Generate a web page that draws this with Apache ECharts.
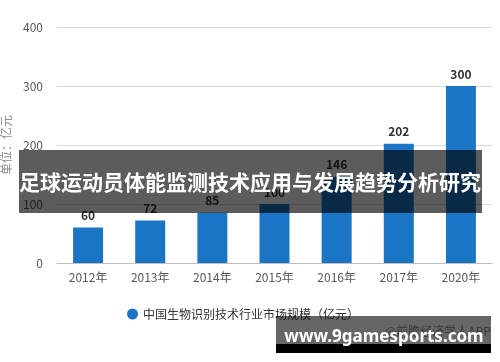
<!DOCTYPE html>
<html><head><meta charset="utf-8">
<script src="https://cdn.jsdelivr.net/npm/echarts@6/dist/echarts.min.js"></script>
<style>html,body{margin:0;padding:0;background:#fff}#c{width:500px;height:362px}</style>
</head><body><div id="c"></div>
<script>
var categories = ['2012年','2013年','2014年','2015年','2016年','2017年','2020年'];
var values = [60, 72, 85, 100, 146, 202, 300];
var seriesName = '中国生物识别技术行业市场规模（亿元）';
var yAxisName = '单位：亿元';
var titleText = '足球运动员体能监测技术应用与发展趋势分析研究';
var sourceText = '@前瞻经济学人APP';
var siteText = 'www.9gamesports.com';

var chart = echarts.init(document.getElementById('c'));
chart.setOption({
  animation: false,
  textStyle: {fontFamily: '"Noto Sans CJK SC", "Noto Sans", sans-serif'},
  grid: {left: 57, right: 8, top: 27, bottom: 99, outerBoundsMode: 'none', containLabel: false},
  legend: {
    data: [seriesName], left: 122, top: 303, icon: 'circle', itemWidth: 11, itemHeight: 11, itemGap: 6,
    textStyle: {color: '#333', fontSize: 12}
  },
  xAxis: {
    type: 'category', data: categories,
    axisLine: {lineStyle: {color: '#bfbfbf'}},
    axisTick: {alignWithLabel: true, length: 5, lineStyle: {color: '#bfbfbf'}},
    axisLabel: {color: '#595959', fontSize: 12, margin: 8}
  },
  yAxis: {
    type: 'value', min: 0, max: 400, interval: 100,
    name: yAxisName, nameLocation: 'middle', nameGap: 42, nameRotate: 90,
    nameTextStyle: {color: '#8c8c8c', fontSize: 12},
    axisLine: {show: false}, axisTick: {show: false},
    axisLabel: {color: '#595959', fontSize: 12, margin: 14},
    splitLine: {lineStyle: {color: '#d9d9d9'}}
  },
  series: [{
    name: seriesName, type: 'bar', data: values, barWidth: 30,
    itemStyle: {color: '#1a76c4'},
    label: {show: true, position: 'top', color: '#333', fontSize: 12, fontWeight: 'bold', distance: 6}
  }],
  graphic: [
    {type: 'text', left: 385, top: 325, z: 10, style: {text: sourceText, fill: '#8c8c8c', font: '12px "Noto Sans CJK SC"'}},
    {type: 'rect', shape: {x: 19, y: 150, width: 463, height: 63}, z: 20, style: {fill: 'rgba(0,0,0,0.64)'}},
    {type: 'text', x: 250, y: 182, z: 21, style: {text: titleText, fill: '#fff', font: 'bold 21px "Noto Sans CJK SC"', align: 'center', verticalAlign: 'middle'}},
    {type: 'rect', shape: {x: 276, y: 316, width: 215, height: 28}, z: 20, style: {fill: 'rgba(0,0,0,0.6)'}},
    {type: 'rect', shape: {x: 276, y: 344, width: 215, height: 9}, z: 20, style: {fill: '#000'}},
    {type: 'text', x: 384, y: 337, z: 21, style: {text: siteText, fill: '#fff', font: 'bold 17px "Noto Sans", "DejaVu Sans", sans-serif', align: 'center', verticalAlign: 'middle'}}
  ]
});
</script></body></html>
